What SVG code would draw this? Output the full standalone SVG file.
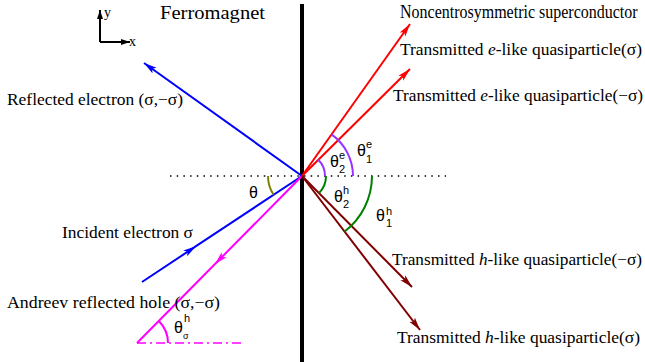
<svg xmlns="http://www.w3.org/2000/svg" width="645" height="362" viewBox="0 0 645 362">
<style>
text{font-family:"Liberation Serif","Times New Roman",serif;fill:#000}
.lbl{font-size:17.3px}
.hd{font-size:19.5px}
.g{font-size:16px;font-family:"Liberation Sans",Arial,sans-serif}
.s{font-size:11px;font-family:"Liberation Sans",Arial,sans-serif}
.ln{fill:none;stroke-width:2}
.arc{fill:none;stroke-width:2}
</style>
<defs>
<marker id="aB" markerUnits="userSpaceOnUse" markerWidth="14" markerHeight="8" refX="13" refY="4" orient="auto"><path d="M0,0.5 L13,4 L0,7.5 L3,4 z" fill="#0000ff"/></marker>
<marker id="aR" markerUnits="userSpaceOnUse" markerWidth="14" markerHeight="8" refX="13" refY="4" orient="auto"><path d="M0,0.5 L13,4 L0,7.5 L3,4 z" fill="#ff0000"/></marker>
<marker id="aD" markerUnits="userSpaceOnUse" markerWidth="14" markerHeight="8" refX="13" refY="4" orient="auto"><path d="M0,0.5 L13,4 L0,7.5 L3,4 z" fill="#800000"/></marker>
<marker id="aM" markerUnits="userSpaceOnUse" markerWidth="14" markerHeight="8" refX="13" refY="4" orient="auto"><path d="M0,0.5 L13,4 L0,7.5 L3,4 z" fill="#ff00ff"/></marker>
<marker id="aK" markerUnits="userSpaceOnUse" markerWidth="10" markerHeight="8" refX="9" refY="4" orient="auto"><path d="M0,1 L9,4 L0,7 z" fill="#000"/></marker>
</defs>

<g id="axes">
<line x1="100" y1="42" x2="100" y2="10" stroke="#000" stroke-width="2" marker-end="url(#aK)"/>
<line x1="100" y1="42" x2="130" y2="42" stroke="#000" stroke-width="2" marker-end="url(#aK)"/>
<text x="104" y="17" style="font-size:14px">y</text>
<text x="129" y="46" style="font-size:14px">x</text>
</g>

<g id="titles">
<text class="hd" x="160" y="19" textLength="105" lengthAdjust="spacingAndGlyphs">Ferromagnet</text>
<text transform="translate(400,18) scale(1,1.13)" x="0" y="0" style="font-size:16px">Noncentrosymmetric superconductor</text>
</g>

<g id="interface">
<line x1="302" y1="4" x2="302" y2="362" stroke="#000" stroke-width="4"/>
<line x1="170" y1="176" x2="446" y2="176" stroke="#000" stroke-width="1.5" stroke-dasharray="1.5 5.2"/>
</g>

<g id="connectors">
<polyline class="ln" points="302,176 144,63" stroke="#0000ff" marker-end="url(#aB)"/>
<polyline class="ln" points="142,282 196,246.2 302,176" stroke="#0000ff" marker-mid="url(#aB)"/>
<polyline class="ln" points="302,176 215,264 137,343" stroke="#ff00ff" marker-mid="url(#aM)"/>
<line x1="137" y1="343" x2="245" y2="343" stroke="#ff00ff" stroke-width="1.5" stroke-dasharray="9 4 2 4"/>
<polyline class="ln" points="302,176 410,24" stroke="#ff0000" marker-end="url(#aR)"/>
<polyline class="ln" points="302,176 410,69" stroke="#ff0000" marker-end="url(#aR)"/>
<polyline class="ln" points="302,176 412,287" stroke="#800000" marker-end="url(#aD)"/>
<polyline class="ln" points="302,176 420,330" stroke="#800000" marker-end="url(#aD)"/>
</g>

<g id="angles">
<path class="arc" d="M353,176 A51,51 0 0 0 331.5,134.4" stroke="#9933ff"/>
<path class="arc" d="M325,176 A23,23 0 0 0 318.3,159.7" stroke="#9933ff"/>
<path class="arc" d="M326,176 A24,24 0 0 1 319,193" stroke="#008000"/>
<path class="arc" d="M372,176 A70,70 0 0 1 344.6,231.5" stroke="#008000"/>
<path class="arc" d="M268,176 A34,34 0 0 0 273.6,194.8" stroke="#808000"/>
<path class="arc" d="M168,343 A31,31 0 0 0 158.8,321" stroke="#ff00ff"/>
</g>

<g id="angle-labels">
<text class="g" x="249" y="198">θ</text>
<text class="g" x="330" y="167">θ</text><text class="s" x="339" y="173">2</text><text class="s" x="339" y="159">e</text>
<text class="g" x="357" y="156">θ</text><text class="s" x="366" y="163">1</text><text class="s" x="366" y="148">e</text>
<text class="g" x="334" y="202">θ</text><text class="s" x="343" y="208">2</text><text class="s" x="343" y="194">h</text>
<text class="g" x="376" y="221">θ</text><text class="s" x="386" y="227">1</text><text class="s" x="386" y="215">h</text>
<text class="g" x="174" y="333">θ</text><text class="s" x="183" y="339" style="font-size:9px">σ</text><text class="s" x="184" y="322">h</text>
</g>

<g id="labels">
<text class="lbl" x="7" y="105" textLength="176" lengthAdjust="spacingAndGlyphs">Reflected electron (σ,−σ)</text>
<text class="lbl" x="62" y="238" textLength="131" lengthAdjust="spacingAndGlyphs">Incident electron σ</text>
<text class="lbl" x="7" y="308" textLength="213" lengthAdjust="spacingAndGlyphs">Andreev reflected hole (σ,−σ)</text>
<text class="lbl" x="400" y="55" textLength="242" lengthAdjust="spacingAndGlyphs">Transmitted <tspan font-style="italic">e</tspan>-like quasiparticle(σ)</text>
<text class="lbl" x="393" y="101" textLength="250" lengthAdjust="spacingAndGlyphs">Transmitted <tspan font-style="italic">e</tspan>-like quasiparticle(−σ)</text>
<text class="lbl" x="392" y="265" textLength="250" lengthAdjust="spacingAndGlyphs">Transmitted <tspan font-style="italic">h</tspan>-like quasiparticle(−σ)</text>
<text class="lbl" x="397" y="343" textLength="243" lengthAdjust="spacingAndGlyphs">Transmitted <tspan font-style="italic">h</tspan>-like quasiparticle(σ)</text>
</g>
</svg>
